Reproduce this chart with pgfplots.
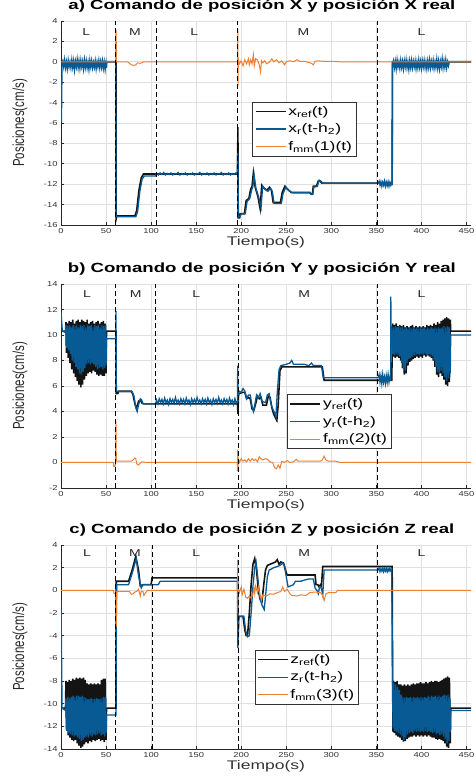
\documentclass[border=0pt]{standalone}
\usepackage{fontspec}
\setmainfont{Liberation Sans}
\newfontfamily\wf[FakeStretch=1.4]{Liberation Sans}
\newfontfamily\tf[FakeStretch=1.3]{Liberation Sans}
\newfontfamily\tallf[FakeStretch=0.72]{Liberation Sans}
\usepackage{pgfplots}
\pgfplotsset{compat=1.18}
\definecolor{mblue}{RGB}{8,90,148}
\definecolor{morange}{RGB}{238,128,50}
\definecolor{mblack}{RGB}{20,20,20}
\tikzset{lab/.style={font=\wf\fontsize{10}{12}\selectfont, text=black!85}}
\pgfplotsset{
 refl/.style={mblack, line width=1.6pt},
 realb/.style={mblue, line width=1.3pt},
 fmm/.style={morange, line width=1.0pt},
 vdash/.style={forget plot, black, line width=1pt, dash pattern=on 5pt off 3pt},
 panel/.style={
  scale only axis, width=410pt, height=204pt,
  xmin=0, xmax=455, xtick={0,50,...,450},
  axis x line*=bottom, axis y line*=left,
  axis line style={-, draw=black!85, line width=0.7pt},
  tick align=inside, major tick length=3pt,
  tick style={black!85, line width=0.6pt},
  grid=major, grid style={draw=black!12, line width=0.8pt},
  /pgf/number format/assume math mode=true,
  ticklabel style={font=\tf\fontsize{7.2}{9}\selectfont, text=black!80},
  xlabel={Tiempo(s)}, ylabel={Posiciones(cm/s)},
  xlabel style={font=\wf\fontsize{12.5}{14}\selectfont, text=black!80, at={(axis description cs:0.5,0)}, anchor=north, yshift=-8pt},
  ylabel style={font=\tallf\fontsize{16}{18}\selectfont, text=black!85, at={(axis description cs:-0.1,0.5)}, anchor=center},
  title style={font=\wf\bfseries\fontsize{13.3}{15}\selectfont, at={(axis description cs:0.49,1)}, anchor=south, yshift=-1pt},
  legend style={draw=black!80, line width=0.6pt, fill=white, font=\wf\fontsize{12.5}{14}\selectfont, inner xsep=2pt, inner ysep=2pt, row sep=3pt, anchor=north west},
  legend cell align=left,
  legend image code/.code={\draw[##1] (0pt,0pt) -- (30pt,0pt);},
 }
}
\begin{document}
\begin{tikzpicture}
\useasboundingbox (0,0) rectangle (475pt,783pt);
% ---------------- Panel a ----------------
\begin{axis}[panel, at={(61pt,558pt)}, anchor=south west,
  ymin=-16, ymax=4, ytick={-16,-14,...,4},
  title={a) Comando de posición X y posición X real},
  legend style={at={(0.467,0.603)}}]
\addplot[refl] coordinates {(0,0) (61,0) (61.2,-15.4) (62,-15.1) (82,-15.1) (84,-14.6) (86.5,-12.6) (89,-11.4) (91.5,-11) (196,-11) (196.3,-6.4) (196.7,-15.3) (198.2,-15.3) (199,-14.9) (203.5,-14.9) (205.5,-13.6) (208.5,-13.4) (210.5,-12.5) (212,-12.2) (213.5,-10.9) (215.5,-12.3) (218.5,-13.2) (221,-14.4) (222.8,-12.1) (225.5,-12.4) (228.5,-12.6) (231.5,-12.3) (233.5,-12.6) (235.5,-13.8) (243.5,-13.8) (245.5,-12.8) (248.5,-12.2) (251.5,-12.5) (255.5,-12.8) (276,-12.8) (277,-12.95) (279,-12.95) (280,-12.2) (283.5,-12.2) (285.5,-11.7) (287.5,-11.7) (289.5,-11.9) (367.5,-11.9) (367.8,0) (455,0)};
\addlegendentry{x\textsubscript{ref}(t)}
\addplot[realb] coordinates {(0.5,-5.9) (1.2,-0.1) (2,0.1) (3,-0.5) (4,0.2) (5,-0.6) (6,0.0) (7,-0.7) (8,0.15) (9,-0.5) (10,0.0) (11,-0.6) (12,0.2) (13,-0.55) (14,0.1) (15,-0.8) (16,0.05) (17,-0.5) (18,0.25) (19,-0.6) (20,0.1) (21,-0.65) (22,0.15) (23,-0.5) (24,0.05) (25,-0.7) (26,0.2) (27,-0.55) (28,0.1) (29,-0.6) (30,0.0) (31,-0.75) (32,0.15) (33,-0.5) (34,0.1) (35,-0.6) (36,-0.05) (37,-0.55) (38,0.1) (39,-0.7) (40,0.0) (41,-0.5) (42,0.15) (43,-0.6) (44,0.05) (45,-0.55) (46,0.1) (47,-0.65) (48,0.0) (49,-0.8) (50,-0.1) (50.5,-0.6) (51,0) (60.8,0) (61,-15.2) (62.5,-15.2) (83,-15.2) (85,-14.7) (87.5,-12.7) (90,-11.5) (92.5,-11.2) (105,-11.2) (106,-10.95) (108,-11.1) (110,-10.9) (112,-11.05) (114,-10.85) (116,-11.1) (118,-10.95) (120,-11.05) (122,-10.9) (124,-11.1) (126,-10.95) (128,-11.0) (130,-10.85) (132,-11.1) (134,-10.95) (136,-11.05) (138,-10.9) (140,-11.1) (142,-10.95) (144,-11.05) (146,-10.9) (148,-11.1) (150,-10.95) (152,-11.0) (154,-10.85) (156,-11.1) (158,-10.95) (160,-11.05) (162,-10.9) (164,-11.1) (166,-10.95) (168,-11.05) (170,-10.9) (172,-11.1) (174,-10.95) (176,-11.0) (178,-10.85) (180,-11.1) (182,-10.95) (184,-11.05) (186,-10.9) (188,-11.1) (190,-10.95) (192,-11.05) (194,-10.9) (195.5,-11.0) (196.2,-8.7) (196.8,-15.2) (198.5,-15.2) (200,-14.9) (204.5,-14.9) (206.5,-13.7) (209.5,-13.4) (211.5,-12.6) (213,-12.2) (214.3,-11.1) (216.3,-12.4) (219.5,-13.3) (222,-14.3) (223.8,-12.2) (226.5,-12.5) (229.5,-12.7) (232.5,-12.4) (234.5,-12.7) (236.5,-13.9) (244.5,-13.9) (246.5,-12.9) (249.5,-12.3) (252.5,-12.6) (256.5,-12.85) (276.5,-12.85) (277.5,-13.0) (279.5,-13.0) (280.5,-12.3) (284.5,-12.2) (286.5,-11.6) (288.5,-11.7) (290.5,-11.9) (352,-11.9) (353,-11.7) (354,-12.1) (355,-11.75) (356,-12.2) (357,-11.8) (358,-12.1) (359,-11.7) (360,-12.2) (361,-11.8) (362,-12.15) (363,-11.75) (364,-12.2) (365,-11.8) (366,-12.1) (367,-11.8) (367.5,-12.1) (368,-0.3) (369,0.1) (370,-0.6) (371,0.05) (372,-0.7) (373,0.2) (374,-0.5) (375,0.0) (376,-0.65) (377,0.15) (378,-0.55) (379,0.05) (380,-0.7) (381,0.1) (382,-0.5) (383,0.2) (384,-0.6) (385,0.0) (386,-0.75) (387,0.1) (388,-0.55) (389,0.15) (390,-0.6) (391,0.05) (392,-0.5) (393,0.1) (394,-0.7) (395,0.0) (396,-0.6) (397,0.2) (398,-0.55) (399,0.05) (400,-0.65) (401,0.1) (402,-0.5) (403,0.15) (404,-0.6) (405,0.0) (406,-0.7) (407,0.1) (408,-0.55) (409,0.2) (410,-0.6) (411,0.05) (412,-0.5) (413,0.15) (414,-0.65) (415,0.0) (416,-0.55) (417,0.25) (418,-0.6) (419,0.1) (420,-0.7) (421,0.05) (422,-0.5) (423,0.3) (424,-0.6) (425,0.1) (426,-0.55) (427,0.2) (428,-0.6) (429,0.0) (430,-0.4) (431,0) (455,0)};
\addlegendentry{x\textsubscript{r}(t-h\textsubscript{2})}
\addplot[fmm] coordinates {(0,0) (60.5,0) (60.8,3.1) (61.2,3.1) (61.5,0) (74,0) (76,-0.15) (78,-0.3) (81,-0.35) (83,-0.3) (85,-0.1) (88,-0.15) (92,0) (196,0) (196.2,3.2) (196.5,-2.3) (196.8,0.3) (198,-0.2) (200,0.1) (202,-0.4) (204,0.2) (206,-0.2) (208,0.3) (209,-0.3) (210.5,0.2) (212,-0.2) (213.5,0.7) (214.5,-0.4) (216,0.3) (218,0.2) (220,-0.3) (221.5,-1.0) (222.5,0.1) (224,-0.1) (226,0.1) (228,-0.2) (231,-0.05) (234,0.3) (236,0) (239,0.2) (242,-0.1) (245,0.1) (248,-0.3) (250,0) (254,0.1) (258,0) (262,0.2) (265,0.05) (270,0.05) (278,-0.15) (280,-0.3) (282,0.05) (285,0.1) (290,0.05) (300,0.05) (310,0) (455,0)};
\addlegendentry{f\textsubscript{mm}(1)(t)}
\addplot[vdash] coordinates {(60.3,-16) (60.3,4)};
\addplot[vdash] coordinates {(106,-16) (106,4)};
\addplot[vdash] coordinates {(196,-16) (196,4)};
\addplot[vdash] coordinates {(351,-16) (351,4)};
\node[lab] at (axis cs:28,2.9) {L};
\node[lab] at (axis cs:82,2.9) {M};
\node[lab] at (axis cs:148,2.9) {L};
\node[lab] at (axis cs:269,2.9) {M};
\node[lab] at (axis cs:400,2.9) {L};
\end{axis}
% ---------------- Panel b ----------------
\begin{axis}[panel, at={(61pt,295pt)}, anchor=south west,
  ymin=-2, ymax=14, ytick={-2,0,...,14},
  title={b) Comando de posición Y y posición Y real},
  legend style={at={(0.552,0.459)}}]
\addplot[refl] coordinates {(0,10.3) (5,10.3) (5.5,11.0) (6,8.6) (7,10.9) (8,8.2) (9,11.1) (10,7.8) (11,11.0) (12,7.3) (13,11.2) (14,7.0) (15,10.9) (16,6.7) (17,11.1) (18,6.4) (19,11.2) (20,6.1) (21,11.0) (22,5.9) (23,11.2) (24,6.1) (25,11.1) (26,6.5) (27,11.0) (28,6.8) (29,11.2) (30,7.0) (31,10.9) (32,7.1) (33,11.0) (34,7.0) (35,11.1) (36,7.2) (37,10.9) (38,7.1) (39,11.0) (40,6.9) (41,11.1) (42,6.8) (43,10.9) (44,6.9) (45,11.0) (46,6.8) (47,11.1) (48,6.8) (49,10.9) (50,7.0) (50.5,10.3) (61,10.3) (61.3,5.4) (63,5.4) (64,5.6) (78,5.6) (80,5.3) (82,4.6) (83.5,4.3) (85,4.5) (86,4.8) (88,4.9) (90,4.65) (92,4.6) (196,4.6) (196.3,3.8) (197,5.4) (202,5.5) (204,5.5) (206,5.0) (208,5.1) (210,5.0) (212,4.2) (214,4.1) (216,4.6) (218,5.2) (220,5.0) (222,5.1) (224,4.5) (228,4.5) (230,5.2) (232,5.1) (234,4.3) (236,3.8) (238,3.5) (239.5,3.3) (241,4.5) (243,7.2) (245,7.5) (290,7.5) (292,6.45) (367,6.45) (367.5,8.3) (368,10.9) (369,8.3) (370,10.8) (371,8.2) (372,10.9) (373,8.3) (374,10.7) (375,8.2) (376,10.8) (377,8.0) (378,10.7) (379,7.4) (380,10.8) (381,6.9) (382,10.6) (383,7.0) (384,10.7) (385,7.6) (386,10.6) (387,7.9) (388,10.7) (389,8.0) (390,10.8) (391,8.1) (392,10.6) (393,8.2) (394,10.7) (395,8.3) (396,10.6) (397,8.2) (398,10.7) (399,8.3) (400,10.6) (401,8.2) (402,10.7) (403,8.4) (404,10.6) (405,8.3) (406,10.8) (407,8.4) (408,10.7) (409,8.3) (410,10.8) (411,8.2) (412,10.7) (413,8.0) (414,10.9) (415,7.5) (416,10.8) (417,6.9) (418,11.0) (419,6.7) (420,10.9) (421,7.0) (422,11.1) (423,6.8) (424,11.2) (425,6.5) (426,11.3) (427,6.1) (428,11.4) (429,6.0) (430,11.3) (431,6.3) (432,11.2) (432.5,10.3) (455,10.3)};
\addlegendentry{y\textsubscript{ref}(t)}
\addplot[realb] coordinates {(0,11.8) (1.5,10.3) (5,10.2) (5.5,10.8) (6.5,9.0) (7.5,10.7) (8.5,8.8) (9.5,10.8) (10.5,8.5) (11.5,10.6) (12.5,8.0) (13.5,10.8) (14.5,7.8) (15.5,10.7) (16.5,7.5) (17.5,10.8) (18.5,7.3) (19.5,10.6) (20.5,7.0) (21.5,10.8) (22.5,6.9) (23.5,10.7) (24.5,7.1) (25.5,10.8) (26.5,7.4) (27.5,10.6) (28.5,7.7) (29.5,10.8) (30.5,7.8) (31.5,10.7) (32.5,7.7) (33.5,10.8) (34.5,7.8) (35.5,10.6) (36.5,7.7) (37.5,10.8) (38.5,7.5) (39.5,10.7) (40.5,7.3) (41.5,10.8) (42.5,7.4) (43.5,10.6) (44.5,7.5) (45.5,10.8) (46.5,7.3) (47.5,10.7) (48.5,7.4) (49.5,10.8) (50,7.6) (50.5,9.7) (60.8,9.7) (61,11.9) (61.4,5.6) (64,5.55) (79,5.55) (81,5.2) (83,4.3) (84.5,4.0) (86,4.5) (88,5.0) (89.5,4.9) (91,4.6) (105,4.6) (106,4.9) (107.5,4.6) (109,5.0) (110.5,4.7) (112,4.95) (113.5,4.6) (115,5.05) (116.5,4.7) (118,4.9) (119.5,4.55) (121,5.0) (122.5,4.7) (124,4.95) (125.5,4.65) (127,5.1) (128.5,4.7) (130,4.9) (131.5,4.6) (133,5.0) (134.5,4.7) (136,4.95) (137.5,4.6) (139,5.05) (140.5,4.7) (142,4.9) (143.5,4.55) (145,5.0) (146.5,4.7) (148,4.95) (149.5,4.65) (151,5.1) (152.5,4.7) (154,4.9) (155.5,4.6) (157,5.0) (158.5,4.7) (160,4.95) (161.5,4.6) (163,5.05) (164.5,4.7) (166,4.9) (167.5,4.55) (169,5.0) (170.5,4.7) (172,4.95) (173.5,4.65) (175,5.1) (176.5,4.7) (178,4.9) (179.5,4.6) (181,5.0) (182.5,4.7) (184,4.95) (185.5,4.6) (187,5.05) (188.5,4.7) (190,4.9) (191.5,4.55) (193,5.0) (194.5,4.6) (195.8,4.8) (196.1,7.6) (196.5,4.8) (197.5,5.6) (200,5.5) (202,5.8) (204,5.6) (206,5.0) (208,5.3) (210,5.3) (212,4.4) (213.5,4.0) (215,4.5) (217,5.3) (219,5.1) (221,5.4) (223,4.8) (227,4.7) (229,5.3) (231,5.4) (233,4.6) (235,4.2) (237,3.9) (238.5,3.6) (240,5.5) (242,7.3) (244,7.6) (250,7.7) (254,7.8) (256,8.0) (258,7.7) (270,7.7) (275,7.6) (278,7.8) (280,7.6) (289,7.6) (291,6.65) (352,6.65) (353,6.9) (354,6.3) (355,6.8) (356,6.2) (357,6.9) (358,6.3) (359,6.7) (360,6.2) (361,6.8) (362,6.3) (363,6.9) (364,6.3) (365,6.7) (365.8,6.4) (366,13.0) (366.5,9.0) (367,10.7) (368,8.5) (369,10.6) (370,8.4) (371,10.7) (372,8.5) (373,10.6) (374,8.4) (375,10.7) (376,8.3) (377,10.6) (378,7.8) (379,10.7) (380,7.3) (381,10.5) (382,7.2) (383,10.6) (384,7.8) (385,10.5) (386,8.1) (387,10.6) (388,8.2) (389,10.5) (390,8.3) (391,10.6) (392,8.4) (393,10.5) (394,8.4) (395,10.6) (396,8.5) (397,10.5) (398,8.4) (399,10.6) (400,8.5) (401,10.5) (402,8.4) (403,10.6) (404,8.5) (405,10.5) (406,8.4) (407,10.6) (408,8.5) (409,10.5) (410,8.4) (411,10.6) (412,8.3) (413,10.5) (414,8.0) (415,10.6) (416,7.5) (417,10.5) (418,7.1) (419,10.6) (420,7.0) (421,10.5) (422,7.2) (423,10.6) (424,7.0) (425,10.7) (426,6.7) (427,10.6) (428,6.4) (429,10.7) (430,6.6) (431,10.6) (432,7.0) (432.5,10.0) (455,10.0)};
\addlegendentry{y\textsubscript{r}(t-h\textsubscript{2})}
\addplot[fmm] coordinates {(0,0) (58,0) (58.5,-0.3) (60,-0.3) (60.5,0) (61,3.3) (61.4,0.1) (78,0.1) (80,0.2) (82,0.35) (83,0.3) (84,-0.1) (86,-0.2) (88,-0.05) (90,0.05) (95,0) (195.5,0) (195.8,-0.7) (196.1,1.0) (196.4,-0.5) (196.8,0.3) (198,0) (200,0.3) (202,0.1) (204,0.2) (206,0.05) (208,0.3) (210,0.1) (212,0.3) (214,0.15) (216,0.25) (218,0.05) (220,0.45) (222,0.3) (224,0.2) (227,0.3) (229,0.25) (232,0.05) (235,0.0) (237,-0.4) (239,-0.5) (241,-0.2) (243,-0.45) (245,0.1) (248,0.0) (251,0.15) (254,0.0) (258,0.05) (261,0.25) (263,0.1) (270,0.1) (280,0.1) (288,0.1) (290,0.2) (292,0.5) (294,0.2) (297,0.1) (305,0.1) (310,0) (455,0)};
\addlegendentry{f\textsubscript{mm}(2)(t)}
\addplot[vdash] coordinates {(60.3,-2) (60.3,14)};
\addplot[vdash] coordinates {(105,-2) (105,14)};
\addplot[vdash] coordinates {(196.5,-2) (196.5,14)};
\addplot[vdash] coordinates {(351,-2) (351,14)};
\node[lab] at (axis cs:29,13.2) {L};
\node[lab] at (axis cs:83,13.2) {M};
\node[lab] at (axis cs:150,13.2) {L};
\node[lab] at (axis cs:270,13.2) {M};
\node[lab] at (axis cs:400,13.2) {L};
\end{axis}
% ---------------- Panel c ----------------
\begin{axis}[panel, at={(61pt,34pt)}, anchor=south west,
  ymin=-14, ymax=4, ytick={-14,-12,...,4},
  title={c) Comando de posición Z y posición Z real},
  legend style={at={(0.472,0.485)}}]
\addplot[refl] coordinates {(0,-10.4) (5,-10.4) (5.5,-8.0) (6,-12.3) (7,-8.1) (8,-12.8) (9,-7.9) (10,-13.0) (11,-8.0) (12,-13.2) (13,-7.8) (14,-13.3) (15,-7.9) (16,-13.2) (17,-7.7) (18,-13.5) (19,-7.8) (20,-13.7) (21,-7.7) (22,-13.9) (23,-7.8) (24,-13.8) (25,-7.7) (26,-13.6) (27,-7.9) (28,-13.4) (29,-8.2) (30,-13.5) (31,-8.3) (32,-13.3) (33,-8.2) (34,-13.4) (35,-8.3) (36,-13.2) (37,-8.2) (38,-13.3) (39,-8.3) (40,-13.2) (41,-8.2) (42,-13.1) (43,-8.3) (44,-13.3) (45,-7.9) (46,-13.2) (47,-7.8) (48,-13.4) (49,-7.8) (50,-13.2) (50.5,-10.4) (61,-10.4) (61.3,0.8) (75,0.8) (79,1.8) (83,3.0) (86,1.8) (88,0.4) (91,0.5) (100,0.5) (101,1.1) (196,1.1) (196.3,-4.5) (197,-2.3) (202,-2.3) (204,-3.5) (205.5,-4.0) (207,-4.0) (209,-2.0) (211,0.5) (213,2.3) (215,2.8) (217,1.8) (219,0.0) (221,-0.8) (223,-1.0) (225,0.5) (227,1.8) (229,2.2) (232,2.3) (235,2.4) (238,2.5) (240,2.7) (242,2.3) (244,2.5) (247,2.4) (249,1.8) (251,1.35) (282,1.35) (283,0.5) (285,0.5) (286.5,0.3) (288,0.5) (289,0.4) (290.5,2.1) (367.5,2.1) (368,-8.0) (368.5,-12.5) (369,-8.0) (370,-12.6) (371,-8.1) (372,-12.8) (373,-8.0) (374,-12.9) (375,-8.3) (376,-13.0) (377,-8.3) (378,-13.2) (379,-8.4) (380,-13.35) (381,-8.3) (382,-13.3) (383,-8.4) (384,-13.1) (385,-8.3) (386,-13.0) (387,-8.4) (388,-12.9) (389,-8.3) (390,-12.9) (391,-8.2) (392,-12.8) (393,-8.3) (394,-12.9) (395,-8.2) (396,-12.8) (397,-8.2) (398,-12.9) (399,-8.1) (400,-12.8) (401,-8.2) (402,-12.9) (403,-8.2) (404,-12.8) (405,-8.1) (406,-12.9) (407,-8.2) (408,-12.8) (409,-8.1) (410,-12.9) (411,-8.0) (412,-13.0) (413,-8.1) (414,-13.0) (415,-8.0) (416,-13.1) (417,-8.0) (418,-13.2) (419,-8.1) (420,-13.1) (421,-8.0) (422,-13.2) (423,-7.9) (424,-13.3) (425,-7.8) (426,-13.5) (427,-7.7) (428,-13.8) (429,-7.6) (430,-13.9) (431,-7.7) (432,-13.5) (432.5,-10.4) (455,-10.4)};
\addlegendentry{z\textsubscript{ref}(t)}
\addplot[realb] coordinates {(0,-0.8) (1.2,-10.4) (5,-10.6) (5.5,-9.5) (6.5,-12.4) (7.5,-9.4) (8.5,-12.6) (9.5,-9.5) (10.5,-12.7) (11.5,-9.4) (12.5,-12.8) (13.5,-9.3) (14.5,-12.9) (15.5,-9.4) (16.5,-12.8) (17.5,-9.3) (18.5,-13.0) (19.5,-9.3) (20.5,-13.1) (21.5,-9.4) (22.5,-13.3) (23.5,-9.3) (24.5,-13.2) (25.5,-9.4) (26.5,-13.0) (27.5,-9.5) (28.5,-12.9) (29.5,-9.6) (30.5,-13.0) (31.5,-9.6) (32.5,-12.8) (33.5,-9.5) (34.5,-12.9) (35.5,-9.6) (36.5,-12.7) (37.5,-9.6) (38.5,-12.8) (39.5,-9.5) (40.5,-12.7) (41.5,-9.6) (42.5,-12.6) (43.5,-9.6) (44.5,-12.8) (45.5,-9.5) (46.5,-12.7) (47.5,-9.4) (48.5,-12.9) (49.5,-9.4) (50,-12.6) (50.5,-11.0) (61,-11.0) (61.3,-3.2) (61.8,0.5) (75,0.5) (79,1.5) (83.5,2.8) (86,1.3) (89,0.2) (91,0.5) (94,0.5) (108,0.5) (110,0.8) (196,0.8) (196.3,-5.1) (197.5,-2.3) (203,-2.3) (205,-3.6) (207,-4.1) (209,-4.0) (211,-2.0) (213,0.3) (215,2.0) (216.5,2.5) (218.5,1.0) (221,-0.8) (223,-1.3) (225.5,-1.7) (227,-0.5) (229,1.2) (231,1.8) (234,1.9) (236,2.0) (240,2.1) (243,2.2) (246,2.4) (248,2.2) (250,1.2) (252,0.3) (255,0.4) (258,0.5) (260,0.8) (266,0.8) (270,0.9) (275,1.0) (280,1.0) (282,0.2) (284,0.0) (285.5,-0.3) (287,0.3) (289,0.2) (290.5,-0.4) (292,1.8) (352,1.8) (353,1.95) (354,1.65) (355,1.9) (356,1.7) (357,1.95) (358,1.65) (359,1.9) (360,1.7) (361,1.95) (362,1.65) (363,1.9) (364,1.7) (365,1.95) (366,1.7) (367,1.8) (368,-8.0) (368.5,-12.2) (369.5,-8.2) (370.5,-12.4) (371.5,-8.3) (372.5,-12.5) (373.5,-8.5) (374.5,-12.6) (375.5,-8.8) (376.5,-12.7) (377.5,-9.2) (378.5,-12.9) (379.5,-9.4) (380.5,-13.2) (381.5,-9.5) (382.5,-13.0) (383.5,-9.4) (384.5,-12.7) (385.5,-9.5) (386.5,-12.6) (387.5,-9.4) (388.5,-12.5) (389.5,-9.5) (390.5,-12.6) (391.5,-9.4) (392.5,-12.4) (393.5,-9.5) (394.5,-12.5) (395.5,-9.4) (396.5,-12.4) (397.5,-9.5) (398.5,-12.5) (399.5,-9.4) (400.5,-12.4) (401.5,-9.5) (402.5,-12.5) (403.5,-9.4) (404.5,-12.4) (405.5,-9.5) (406.5,-12.5) (407.5,-9.3) (408.5,-12.4) (409.5,-9.4) (410.5,-12.5) (411.5,-9.3) (412.5,-12.6) (413.5,-9.4) (414.5,-12.5) (415.5,-9.3) (416.5,-12.7) (417.5,-9.4) (418.5,-12.6) (419.5,-9.3) (420.5,-12.8) (421.5,-9.4) (422.5,-12.7) (423.5,-9.3) (424.5,-12.9) (425.5,-9.2) (426.5,-13.1) (427.5,-9.3) (428.5,-13.5) (429.5,-9.2) (430.5,-13.3) (431.5,-9.4) (432,-12.5) (432.5,-10.6) (455,-10.6)};
\addlegendentry{z\textsubscript{r}(t-h\textsubscript{2})}
\addplot[fmm] coordinates {(0,0) (58,0) (59,-0.3) (61,-0.3) (61.3,-3.2) (61.7,-0.1) (76,-0.1) (78,-0.35) (80,-0.3) (82,-0.15) (84,-0.1) (86,0.1) (88,-0.5) (89,-0.1) (91,-0.1) (92,-0.45) (94,-0.2) (96,0) (195.8,0) (196,2.7) (196.3,-2.0) (196.7,0.2) (198,-0.2) (200,0.3) (201,-0.4) (203,0.1) (205,-0.6) (207,-0.7) (209,-0.5) (211,-0.7) (213,-0.3) (214,0.3) (215,-0.3) (216,0.4) (218,-0.2) (219,0.3) (221,-0.5) (222.5,-0.9) (224,-0.4) (228,-0.5) (232,-0.3) (236,-0.35) (240,-0.2) (244,-0.1) (246,0.3) (248,-0.1) (251,0.1) (254,-0.3) (256,-0.45) (262,-0.5) (266,-0.4) (272,-0.45) (276,-0.2) (282,-0.15) (288,-0.2) (290,-0.4) (292,-0.9) (294,-0.3) (297,-0.2) (305,-0.2) (307,0) (455,0)};
\addlegendentry{f\textsubscript{mm}(3)(t)}
\addplot[vdash] coordinates {(60.3,-14) (60.3,4)};
\addplot[vdash] coordinates {(102,-14) (102,4)};
\addplot[vdash] coordinates {(196.5,-14) (196.5,4)};
\addplot[vdash] coordinates {(351,-14) (351,4)};
\node[lab] at (axis cs:29,3.3) {L};
\node[lab] at (axis cs:82,3.3) {M};
\node[lab] at (axis cs:150,3.3) {L};
\node[lab] at (axis cs:270,3.3) {M};
\node[lab] at (axis cs:400,3.3) {L};
\end{axis}
\end{tikzpicture}
\end{document}
